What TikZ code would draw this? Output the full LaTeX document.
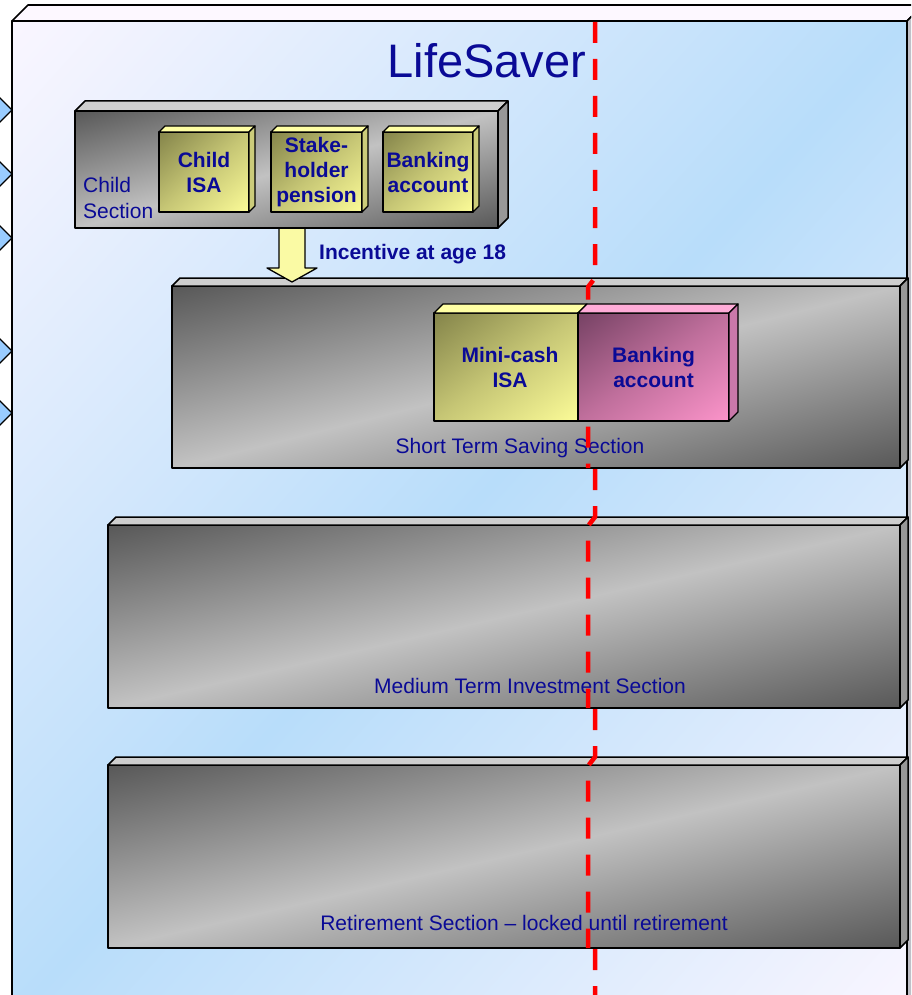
\documentclass[tikz,border=0pt]{standalone}
\usepackage{fontspec}
\setmainfont{Liberation Sans}
\usetikzlibrary{calc}

\definecolor{panelLav}{RGB}{250,246,255}
\definecolor{panelBlue}{RGB}{184,221,250}
\definecolor{panelTop}{RGB}{253,248,255}
\definecolor{panelSide}{RGB}{192,192,200}
\definecolor{secDark}{RGB}{88,88,88}
\definecolor{secLight}{RGB}{194,194,194}
\definecolor{secTop}{RGB}{206,206,206}
\definecolor{secSide}{RGB}{152,152,152}
\definecolor{yelDark}{RGB}{132,132,74}
\definecolor{yelLight}{RGB}{252,252,152}
\definecolor{yelTop}{RGB}{255,255,164}
\definecolor{yelSide}{RGB}{204,204,122}
\definecolor{pinkDark}{RGB}{118,66,100}
\definecolor{pinkLight}{RGB}{252,148,202}
\definecolor{pinkTop}{RGB}{255,172,216}
\definecolor{pinkSide}{RGB}{202,120,170}
\definecolor{chevFill}{RGB}{153,204,255}
\definecolor{inkBlue}{RGB}{10,10,150}
\definecolor{arrowFill}{RGB}{250,250,164}
\definecolor{dashRed}{RGB}{255,0,0}

\newcommand\boxfont{\fontsize{21}{25}\selectfont\bfseries}
\newcommand\secfont{\fontsize{21}{26}\selectfont}

% diagonal gradient filling the rectangle centred at (#1,#2), #3 wide, #4 high:
% colour #5 at the top-left corner, #6 along the rising diagonal, #7 at the bottom-right corner
\newcommand\diagshade[7]{%
  \begin{scope}
    \clip (#1-#3/2,#2-#4/2) rectangle (#1+#3/2,#2+#4/2);
    \pgfmathsetmacro\dsAngle{atan(#4/#3)}%
    \pgfmathsetmacro\dsHalf{#3*sin(\dsAngle)}%
    \pgfmathsetmacro\dsLen{#3+#4}%
    \begin{scope}[transform canvas={rotate around={\dsAngle:(#1,#2)}}]
      \shade[top color=#5, bottom color=#7, middle color=#6]
        (#1-\dsLen,#2-\dsHalf) rectangle (#1+\dsLen,#2+\dsHalf);
    \end{scope}
  \end{scope}}

% top and right faces of a cuboid whose front face is node #1
\newcommand\boxfaces[3]{%
  \draw[#3top] (#1.north west) -- ++(#2,-#2) -- ($(#1.north east)+(#2,-#2)$) -- (#1.north east) -- cycle;
  \draw[#3side] (#1.north east) -- ++(#2,-#2) -- ($(#1.south east)+(#2,-#2)$) -- (#1.south east) -- cycle;
}

\begin{document}
\begin{tikzpicture}[x=1pt,y=-1pt,
  line join=round,
  frontface/.style={draw, inner sep=0pt, outer sep=0pt},
  panelfront/.style={frontface, line width=1.6pt},
  paneltop/.style={draw, line width=1.6pt, fill=panelTop},
  panelside/.style={draw, line width=1.6pt, fill=panelSide},
  secfront/.style={frontface, line width=1.5pt},
  sectop/.style={draw, line width=1.5pt, fill=secTop},
  secside/.style={draw, line width=1.5pt, fill=secSide},
  prodfront/.style={frontface, line width=1.3pt, align=center, text=inkBlue, font=\boxfont},
  yeltop/.style={draw, line width=1.3pt, fill=yelTop},
  yelside/.style={draw, line width=1.3pt, fill=yelSide},
  pinktop/.style={draw, line width=1.3pt, fill=pinkTop},
  pinkside/.style={draw, line width=1.3pt, fill=pinkSide},
  chev/.style={draw, line width=1.2pt, fill=chevFill},
  seclabel/.style={anchor=base, text=inkBlue, font=\secfont, inner sep=0pt},
  blockarrow/.style={draw, line width=1.3pt, fill=arrowFill},
  redline/.style={draw=dashRed, line width=4.5pt, dash pattern=on 21pt off 16pt}
]
\useasboundingbox (0,0) rectangle (911,995);
\clip (0,0) rectangle (911,995);

% chevrons entering the panel from the left
\foreach \cy in {110,174,238,351,413}
  \draw[chev] (-8,\cy-20) -- (12,\cy) -- (-8,\cy+20) -- cycle;

% main LifeSaver panel
\diagshade{459.5}{521}{895}{1000}{panelLav}{panelBlue}{panelLav}
\node[panelfront, minimum width=895pt, minimum height=1000pt] (panel) at (459.5,521) {};
\boxfaces{panel}{16}{panel}

\node[anchor=base, text=inkBlue, font=\fontsize{47}{56}\selectfont, inner sep=0pt] (title) at (487,78) {LifeSaver};

% sections
\diagshade{536}{377}{728}{182}{secDark}{secLight}{secDark}
\node[secfront, minimum width=728pt, minimum height=182pt] (short) at (536,377) {};
\boxfaces{short}{8}{sec}
\diagshade{504}{616.5}{792}{183}{secDark}{secLight}{secDark}
\node[secfront, minimum width=792pt, minimum height=183pt] (medium) at (504,616.5) {};
\boxfaces{medium}{8}{sec}
\diagshade{504}{856.5}{792}{183}{secDark}{secLight}{secDark}
\node[secfront, minimum width=792pt, minimum height=183pt] (retire) at (504,856.5) {};
\boxfaces{retire}{8}{sec}

\node[seclabel] (shortlbl) at (520,453) {Short Term Saving Section};
\node[seclabel] (mediumlbl) at (530,693) {Medium Term Investment Section};
\node[seclabel] (retirelbl) at (524,930) {Retirement Section – locked until retirement};

% transfer arrow from the child section
\draw[blockarrow] (279,224) -- (279,268) -- (267,268) -- (292,282) -- (317,268) -- (305,268) -- (305,224) -- cycle;
\node[anchor=base west, text=inkBlue, font=\boxfont, inner sep=0pt] (incent) at (319,259) {Incentive at age 18};

% child section
\diagshade{286.5}{169.5}{423}{117}{secDark}{secLight}{secDark}
\node[secfront, minimum width=423pt, minimum height=117pt] (child) at (286.5,169.5) {};
\boxfaces{child}{10}{sec}
\node[anchor=west, align=left, text=inkBlue, font=\secfont, inner sep=0pt] (childlbl) at (83,198) {Child\\Section};

\diagshade{204}{172}{90}{80}{yelDark}{yelDark!45!yelLight}{yelLight}
\node[prodfront, minimum width=90pt, minimum height=80pt] (childisa) at (204,172) {Child\\ISA};
\boxfaces{childisa}{6}{yel}
\diagshade{316.5}{172}{91}{80}{yelDark}{yelDark!45!yelLight}{yelLight}
\node[prodfront, minimum width=91pt, minimum height=80pt] (stake) at (316.5,172) {Stake-\\holder\\pension};
\boxfaces{stake}{6}{yel}
\diagshade{428}{172}{90}{80}{yelDark}{yelDark!45!yelLight}{yelLight}
\node[prodfront, minimum width=90pt, minimum height=80pt] (childbank) at (428,172) {Banking\\account};
\boxfaces{childbank}{6}{yel}

% dividing line across the sections
\draw[redline] (595,22) -- (595,278) -- (588,287) -- (588,468)
  (595,469) -- (595,517) -- (588,526) -- (588,708)
  (595,709) -- (595,757) -- (588,766) -- (588,948)
  (595,949) -- (595,1000);

% short term products
\diagshade{506}{367}{144}{108}{yelDark}{yelDark!45!yelLight}{yelLight}
\node[prodfront, minimum width=144pt, minimum height=108pt] (minicash) at (506,367) {\hspace*{8pt}Mini-cash\\\hspace*{8pt}ISA};
\draw[yeltop] (minicash.north west) -- ++(9,-9) -- ($(minicash.north east)+(9,-9)$) -- (minicash.north east) -- cycle;
\diagshade{653.5}{367}{151}{108}{pinkDark}{pinkDark!45!pinkLight}{pinkLight}
\node[prodfront, minimum width=151pt, minimum height=108pt] (bank) at (653.5,367) {Banking\\account};
\boxfaces{bank}{9}{pink}
\end{tikzpicture}
\end{document}
